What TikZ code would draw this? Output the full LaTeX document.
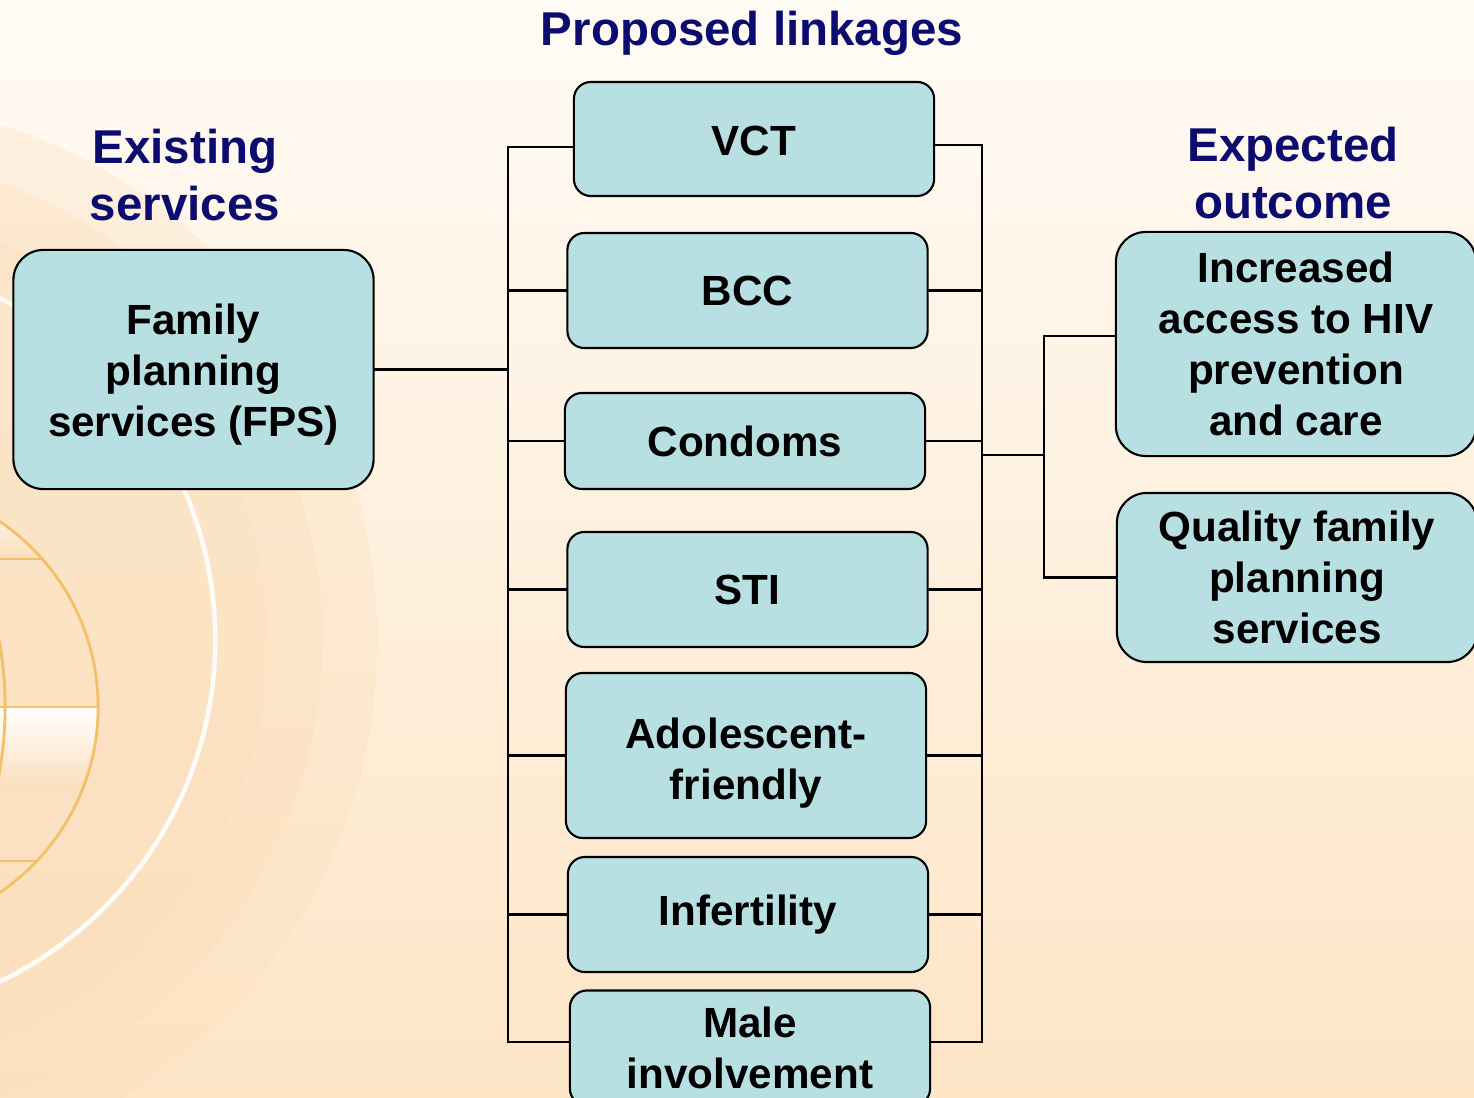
\documentclass[tikz,border=0pt]{standalone}
\usepackage{fontspec}
\setmainfont{Liberation Sans}
\usetikzlibrary{positioning}

\definecolor{boxfill}{RGB}{184,224,227}
\definecolor{headblue}{RGB}{12,12,112}
\definecolor{bgtop}{RGB}{255,251,245}
\definecolor{bgbot}{RGB}{253,229,198}
\definecolor{peach}{RGB}{251,222,186}
\definecolor{globeline}{RGB}{242,192,105}

\tikzset{
  service/.style={draw=black, line width=0.6pt, fill=boxfill, rounded corners=0.17cm,
    align=center, inner sep=0pt, minimum width=3.6cm,
    font=\fontsize{12}{14.5}\selectfont\bfseries},
  heading/.style={align=center, text=headblue, font=\fontsize{13.5}{16}\selectfont\bfseries},
  link/.style={line width=0.6pt, line cap=rect}
}

\begin{document}
\begin{tikzpicture}[x=0.01cm, y=-0.01cm]
  \useasboundingbox (0,0) rectangle (1474,1098);
  \clip (0,0) rectangle (1474,1098);

  % background and the globe on the left
  \shade[top color=bgtop, bottom color=bgbot] (0,0) rectangle (1474,1098);
  \fill[peach, opacity=0.3] (-163,640) circle (5.4cm);
  \fill[peach, opacity=0.35] (-163,640) circle (4.85cm);
  \fill[peach, opacity=0.25] (-163,640) circle (4.3cm);
  \draw[white, line width=1.3pt, opacity=0.9] (-163,640) circle (3.78cm);
  \begin{scope}
    \clip (-126,707) circle (2.24cm);
    \shade[top color=white, bottom color=peach] (-400,490) rectangle (200,559);
    \shade[top color=white, bottom color=peach] (-400,707) rectangle (200,790);
    \draw[globeline, line width=0.8pt] (-400,559) -- (200,559);
    \draw[globeline, line width=0.8pt] (-400,707) -- (200,707);
    \draw[globeline, line width=0.8pt] (-400,861) -- (200,861);
    \draw[globeline, line width=0.8pt] (-126,707) ellipse [x radius=1.31cm, y radius=2.24cm];
  \end{scope}
  \draw[globeline, line width=0.8pt] (-126,707) circle (2.24cm);

  % headings
  \node[heading] (hprop) at (752,33) {Proposed linkages};
  \node[heading] (hexist) at (185,175) {Existing\\services};
  \node[heading] (hexpect) at (1293,173) {Expected\\outcome};

  % existing service
  \node[service, minimum height=2.39cm, rounded corners=0.3cm] (fps) at (193.5,369.5)
    {\rule{0pt}{11.7pt}Family\\planning\\services (FPS)};

  % proposed linkages
  \node[service, minimum height=1.14cm] (vct) at (754,139) {\rule{0pt}{9.6pt}VCT};
  \node[service, minimum height=1.15cm] (bcc) at (747.5,290.5) {BCC};
  \node[service, minimum height=0.96cm] (cond) at (745,441) {Condoms};
  \node[service, minimum height=1.15cm] (sti) at (747.5,589.5) {STI};
  \node[service, minimum height=1.65cm] (adol) at (746,755.5)
    {\rule{0pt}{12.8pt}Adolescent-\\friendly};
  \node[service, minimum height=1.15cm] (infert) at (748,914.5) {Infertility};
  \node[service, minimum height=1.15cm] (male) at (750,1048) {Male\\involvement};

  % expected outcomes
  \node[service, minimum height=2.24cm, rounded corners=0.3cm] (access) at (1296,344)
    {Increased\\access to HIV\\prevention\\and care};
  \node[service, minimum height=1.69cm, rounded corners=0.3cm] (quality) at (1297,577.5)
    {Quality family\\planning\\services};

  % buses
  \coordinate (lbus) at (508,0);
  \coordinate (rbus) at (982,0);
  \coordinate (obus) at (1044,0);

  \draw[link] (fps.east) -- (fps.east -| lbus);
  \draw[link] ([yshift=-0.08cm]vct.west -| lbus) -- ([yshift=0.06cm]male.west -| lbus);
  \draw[link] ([yshift=-0.06cm]vct.east -| rbus) -- ([yshift=0.06cm]male.east -| rbus);
  \draw[link] ([yshift=-0.08cm]vct.west) -- ([yshift=-0.08cm]vct.west -| lbus);
  \draw[link] ([yshift=-0.06cm]vct.east) -- ([yshift=-0.06cm]vct.east -| rbus);
  \draw[link] ([yshift=0.06cm]male.west) -- ([yshift=0.06cm]male.west -| lbus);
  \draw[link] ([yshift=0.06cm]male.east) -- ([yshift=0.06cm]male.east -| rbus);
  \foreach \n in {bcc,cond,sti,adol,infert} {
    \draw[link] (\n.west) -- (\n.west -| lbus);
    \draw[link] (\n.east) -- (\n.east -| rbus);
  }

  \coordinate (rmid) at (982,455);
  \draw[link] (rmid) -- (rmid -| obus);
  \draw[link] ([yshift=0.08cm]access.west) -- ([yshift=0.08cm]access.west -| obus)
    -- (quality.west -| obus) -- (quality.west);
\end{tikzpicture}
\end{document}
